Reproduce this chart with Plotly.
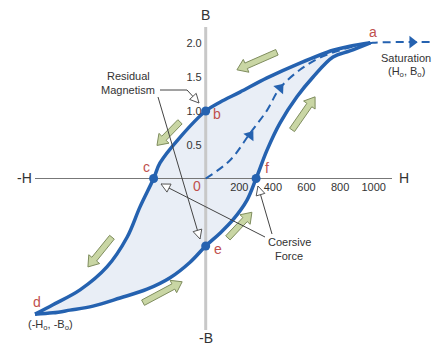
import numpy as np
import plotly.graph_objects as go

# hysteresis loop, H (A/m) vs B (T)
# descending branch a -> b -> c -> d
upper_h = [980, 858, 758, 561, 365, 204, 85, 0, -153, -272, -310, -391, -468, -588, -748, -909, -1016]
upper_b = [2.01, 1.96, 1.90, 1.71, 1.49, 1.28, 1.13, 1.0, 0.61, 0.23, 0, -0.42, -0.87, -1.31, -1.65, -1.87, -2.01]
# ascending branch d -> e -> f -> a
lower_h = [-1016, -909, -808, -671, -510, -349, -212, -93, 0, 85, 163, 246, 300, 365, 442, 543, 638, 758, 858, 980]
lower_b = [-2.01, -1.99, -1.95, -1.89, -1.77, -1.64, -1.47, -1.24, -1.0, -0.81, -0.61, -0.32, 0, 0.42, 0.82, 1.21, 1.50, 1.80, 1.89, 2.01]
# initial magnetisation curve 0 -> a and beyond
init_h = [0, 145, 264, 365, 442, 561, 680, 799, 918, 995, 1377]
init_b = [0, 0.27, 0.67, 1.01, 1.34, 1.61, 1.79, 1.90, 1.98, 2.01, 2.02]
init_arrow_h = [264, 442, 1229]
init_arrow_b = [0.64, 1.34, 2.02]
init_arrow_angle = [37, 40, 90]

# marked points b, c, e, f
point_h = [0, -310, 0, 300]
point_b = [1.0, 0, -1.0, 0]

h_ticks = [200, 400, 600, 800, 1000]
b_ticks = [0.5, 1.0, 1.5, 2.0]
b_tick_text = ['0.5', '1.0', '1.5', '2.0']

# direction arrows along the loop (tail H, tail B, tip H, tip B)
loop_arrows = [
    (424, 1.87, 186, 1.61),
    (-153, 0.84, -290, 0.49),
    (-558, -0.87, -701, -1.31),
    (-373, -1.84, -140, -1.53),
    (132, -0.88, 275, -0.50),
    (514, 0.72, 651, 1.21),
]

# page has an 8px body margin, so the figure is drawn 8px in from the window corner
PAGE = 8
W, H = 440 - PAGE, 349 - PAGE
X0, SX = 205.7, 0.168   # window pixel of H=0, px per unit H
Y0, SY = 178.5, 67.5    # window pixel of B=0, px per unit B

BLUE = '#2562b0'
RED = '#c0504d'
TXT = '#333333'
FONT = 'Liberation Sans, Arial, sans-serif'


def to_px(h, b):
    return X0 + h * SX, Y0 - b * SY


def to_data(px, py):
    return (px - X0) / SX, (Y0 - py) / SY


def arrow_poly(tail, tip, shaft, head, head_len, with_shaft=True):
    t = np.array(to_px(*tail))
    p = np.array(to_px(*tip))
    u = (p - t) / np.linalg.norm(p - t)
    n = np.array([-u[1], u[0]])
    base = p - u * head_len
    if with_shaft:
        pts = [t + n * shaft, base + n * shaft, base + n * head, p,
               base - n * head, base - n * shaft, t - n * shaft, t + n * shaft]
    else:
        pts = [base + n * head, p, base - n * head, base + n * head]
    hs, bs = zip(*[to_data(*q) for q in pts])
    return list(hs), list(bs)


fig = go.Figure()

# shaded loop area
fig.add_trace(go.Scatter(x=upper_h, y=upper_b, mode='lines', line=dict(width=0, shape='spline'),
                         hoverinfo='skip'))
fig.add_trace(go.Scatter(x=lower_h[::-1], y=lower_b[::-1], mode='lines', fill='tonext',
                         fillcolor='#e9eef6', line=dict(width=0, shape='spline'), hoverinfo='skip'))

# axis lines
h_lo, _ = to_data(35, 0)
h_hi, _ = to_data(392, 0)
_, b_hi = to_data(0, 27)
_, b_lo = to_data(0, 330)
fig.add_trace(go.Scatter(x=[0, 0], y=[b_lo, b_hi], mode='lines', line=dict(color='#c8c8c8', width=3)))
fig.add_trace(go.Scatter(x=[h_lo, h_hi], y=[0, 0], mode='lines', line=dict(color='#777777', width=1)))

# initial magnetisation (dashed)
fig.add_trace(go.Scatter(x=init_h, y=init_b, mode='lines',
                         line=dict(color=BLUE, width=2, dash='8px,5px', shape='spline')))
fig.add_trace(go.Scatter(x=init_arrow_h, y=init_arrow_b, mode='markers',
                         marker=dict(symbol='triangle-up', size=11, color=BLUE, angle=init_arrow_angle)))

# loop
fig.add_trace(go.Scatter(x=upper_h, y=upper_b, mode='lines', line=dict(color=BLUE, width=3.5, shape='spline')))
fig.add_trace(go.Scatter(x=lower_h, y=lower_b, mode='lines', line=dict(color=BLUE, width=3.5, shape='spline')))
fig.add_trace(go.Scatter(x=point_h, y=point_b, mode='markers', marker=dict(color=BLUE, size=9)))

# green direction arrows
for th, tb, ph, pb in loop_arrows:
    xs, ys = arrow_poly((th, tb), (ph, pb), 3, 7, 10)
    fig.add_trace(go.Scatter(x=xs, y=ys, mode='lines', fill='toself', fillcolor='#c9d6a4',
                             line=dict(color='#7f8d5e', width=1)))

# leader lines with open arrow heads
leaders = [
    [to_data(160, 90), to_data(187, 90), to_data(199, 103)],
    [to_data(158, 97), to_data(200, 239)],
    [to_data(272, 234), to_data(258, 186)],
    [to_data(265, 237), to_data(161, 184)],
]
for path in leaders:
    hs, bs = zip(*path)
    fig.add_trace(go.Scatter(x=list(hs), y=list(bs), mode='lines', line=dict(color='#444444', width=1)))
    xs, ys = arrow_poly(path[-2], path[-1], 0, 4.5, 9, with_shaft=False)
    fig.add_trace(go.Scatter(x=xs, y=ys, mode='lines', fill='toself', fillcolor='white',
                             line=dict(color='#555555', width=1)))


def label(px, py, text, color=TXT, size=11):
    fig.add_annotation(x=(px - PAGE) / W, y=1 - (py - PAGE) / H, xref='paper', yref='paper', text=text,
                       showarrow=False, xanchor='center', yanchor='middle',
                       font=dict(family=FONT, size=size, color=color))


for px, py, t in [(373, 32, 'a'), (217, 114, 'b'), (146, 167, 'c'), (197, 186, '0'),
                  (267, 168, 'f'), (218, 249, 'e'), (37, 302, 'd')]:
    label(px, py, t, RED, 14)

label(205, 15, 'B', TXT, 14)
label(206, 338, '-B', TXT, 14)
label(404, 178, 'H', TXT, 14)
label(24, 178, '-H', TXT, 14)
label(406, 58, 'Saturation')
label(406, 72, '(H<sub>o</sub>, B<sub>o</sub>)')
label(50, 325, '(-H<sub>o</sub>, -B<sub>o</sub>)')
label(128, 76, 'Residual')
label(128, 90, 'Magnetism')
label(289, 242, 'Coersive')
label(289, 256, 'Force')

x_range = [to_data(PAGE, 0)[0], to_data(440, 0)[0]]
y_range = [to_data(0, 349)[1], to_data(0, PAGE)[1]]

fig.update_layout(
    width=W, height=H,
    margin=dict(l=0, r=0, t=0, b=0, autoexpand=False),
    paper_bgcolor='white', plot_bgcolor='white',
    showlegend=False,
    font=dict(family=FONT, color=TXT),
    xaxis=dict(range=x_range, showgrid=False, zeroline=False, showline=False, ticks='',
               tickvals=h_ticks, ticktext=[str(v) for v in h_ticks], tickfont=dict(size=11, color=TXT),
               anchor='free', position=1 - (Y0 - PAGE) / H, fixedrange=True),
    yaxis=dict(range=y_range, showgrid=False, zeroline=False, showline=False, ticks='',
               tickvals=b_ticks, ticktext=b_tick_text, tickfont=dict(size=11, color=TXT),
               anchor='free', position=(X0 - PAGE) / W, ticklabelstandoff=4, fixedrange=True),
)

fig.write_html("out.html")
